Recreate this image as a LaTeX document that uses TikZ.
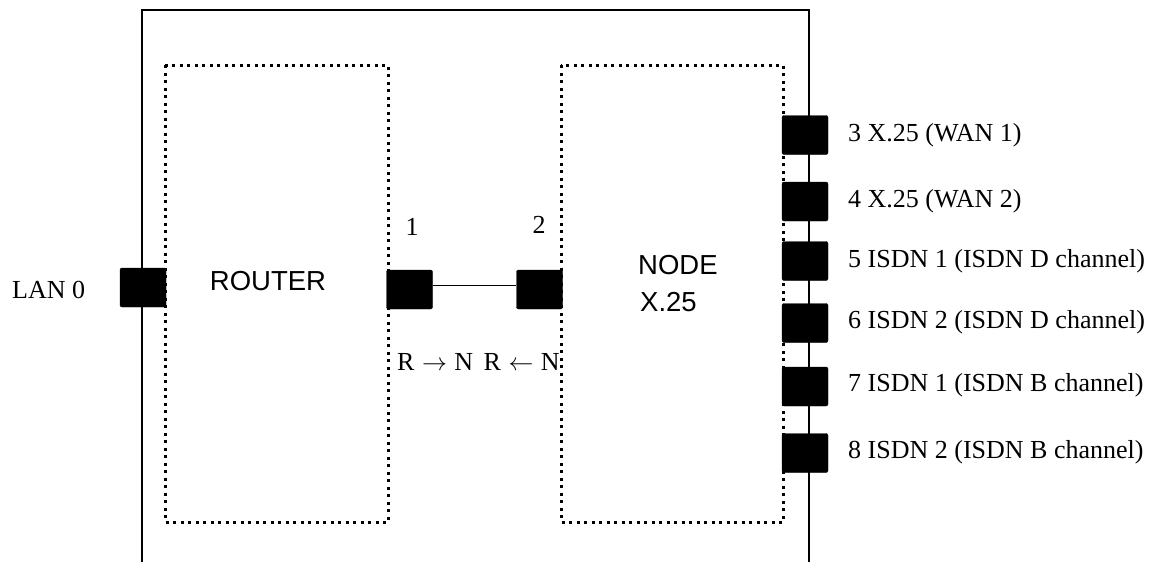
\documentclass[tikz,border=0pt]{standalone}
\usepackage{fontspec}
\setmainfont{Liberation Serif}
\newfontfamily\arialf{Liberation Sans}
\begin{document}
\begin{tikzpicture}[x=1pt,y=-1pt,
  port/.style={fill=black, draw=black, rounded corners=2pt, minimum width=46pt, minimum height=39pt, inner sep=0pt},
  lbl/.style={font=\fontsize{26}{30}\selectfont, inner sep=0pt},
  sanslbl/.style={font=\arialf\fontsize{27.5}{32}\selectfont, inner sep=0pt},
  dotbox/.style={line width=3pt, dash pattern=on 3pt off 4.5pt},
  frame/.style={line width=2.2pt},
  link/.style={line width=1.5pt}]
\useasboundingbox (0,0) rectangle (1161,562);
% outer frame (open at bottom)
\coordinate (fbl) at (142,562);
\coordinate (ftl) at (142,10);
\coordinate (ftr) at (809,10);
\coordinate (fbr) at (809,562);
\draw[frame] (fbl) -- (ftl) -- (ftr) -- (fbr);
% dotted blocks
\draw[dotbox] (165,65) rectangle (388,522);
\draw[dotbox] (561,65) rectangle (783,522);
% block labels
\node[sanslbl] (router) at (268,281) {ROUTER};
\node[sanslbl, anchor=west] (nodet) at (638,265) {NODE};
\node[sanslbl, anchor=west] (x25) at (640,302) {X.25};
% ports
\node[port] (lan) at (143,287.5) {};
\node[port] (p1) at (409.5,289.5) {};
\node[port] (p2) at (539.5,289.5) {};
\draw[link] ([yshift=4pt]p1.east) -- ([yshift=4pt]p2.west);
\node[port] (p3) at (805,135) {};
\node[port] (p4) at (805,201.5) {};
\node[port] (p5) at (805,261) {};
\node[port] (p6) at (805,323) {};
\node[port] (p7) at (805,386.5) {};
\node[port] (p8) at (805,453) {};
% labels
\node[lbl, anchor=west] (lanl) at (12,290) {LAN 0};
\node[lbl] (n1) at (412,227) {1};
\node[lbl] (n2) at (539,225) {2};
\node[lbl, anchor=west] (dir) at (397,362) {R\hspace{1pt} $\rightarrow$\hspace{1pt} N\hspace{4pt} R\hspace{1pt} $\leftarrow$\hspace{1pt} N};
\node[lbl, anchor=west] (l3) at (848,135) {3 X.25 (WAN 1)};
\node[lbl, anchor=west] (l4) at (848,201.5) {4 X.25 (WAN 2)};
\node[lbl, anchor=west] (l5) at (848,261) {5 ISDN 1 (ISDN D channel)};
\node[lbl, anchor=west] (l6) at (848,322) {6 ISDN 2 (ISDN D channel)};
\node[lbl, anchor=west] (l7) at (848,385) {7 ISDN 1 (ISDN B channel)};
\node[lbl, anchor=west] (l8) at (848,452) {8 ISDN 2 (ISDN B channel)};
\end{tikzpicture}
\end{document}
